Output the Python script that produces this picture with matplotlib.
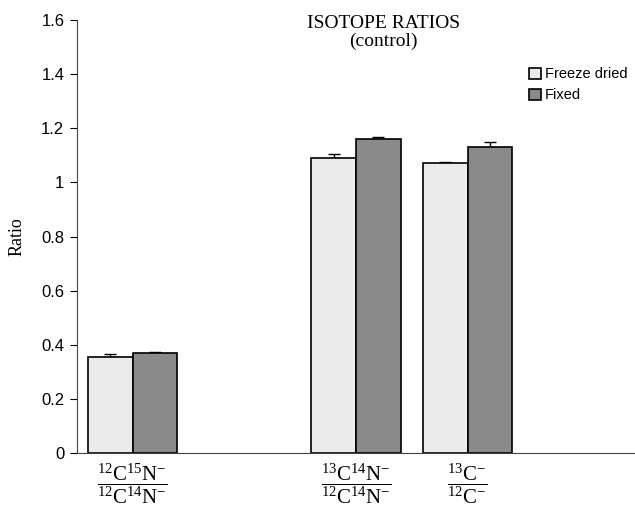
import numpy as np
import matplotlib
matplotlib.use("Agg")
from matplotlib import pyplot as plt

plt.rcParams['font.family'] = ['Liberation Sans', 'DejaVu Sans']
plt.rcParams['mathtext.fontset'] = 'custom'
plt.rcParams['mathtext.rm'] = 'Liberation Serif'
plt.rcParams['mathtext.it'] = 'Liberation Serif:italic'

# categories (two empty slots as in the original layout)
labels = [r'$\dfrac{{}^{12}\mathrm{C}^{15}\mathrm{N}^{-}}{{}^{12}\mathrm{C}^{14}\mathrm{N}^{-}}$',
          '',
          r'$\dfrac{{}^{13}\mathrm{C}^{14}\mathrm{N}^{-}}{{}^{12}\mathrm{C}^{14}\mathrm{N}^{-}}$',
          r'$\dfrac{{}^{13}\mathrm{C}^{-}}{{}^{12}\mathrm{C}^{-}}$',
          '']
groups = [0, 2, 3]
freeze = [0.355, 1.090, 1.072]
freeze_err = [0.010, 0.017, 0.003]
fixed = [0.368, 1.159, 1.131]
fixed_err = [0.005, 0.008, 0.017]

fig = plt.figure(figsize=(6.35, 5.05), dpi=100)
ax = fig.add_axes([0.121, 0.103, 0.879, 0.857])

x = np.array(groups)
w = 0.4
ax.bar(x - w / 2, freeze, w, color='#ebebeb', edgecolor='black', linewidth=1.2,
       label='Freeze dried', zorder=2)
ax.bar(x + w / 2, fixed, w, color='#8a8a8a', edgecolor='black', linewidth=1.2,
       label='Fixed', zorder=2)
ax.errorbar(x - w / 2, freeze, yerr=[np.zeros(3), freeze_err], fmt='none',
            ecolor='black', elinewidth=1, capsize=4, zorder=1)
ax.errorbar(x + w / 2, fixed, yerr=[np.zeros(3), fixed_err], fmt='none',
            ecolor='black', elinewidth=1, capsize=4, zorder=1)

ax.set_xlim(-0.5, 4.5)
ax.set_ylim(0, 1.6)
ax.set_yticks(np.arange(0, 1.61, 0.2))
ax.set_yticklabels(['0', '0.2', '0.4', '0.6', '0.8', '1', '1.2', '1.4', '1.6'], fontsize=12)
ax.set_xticks(range(5))
ax.set_xticklabels(labels, fontsize=15)
ax.tick_params(axis='x', length=0, pad=6)
ax.tick_params(axis='y', direction='out', length=5, width=0.8, pad=4)

for s in ['top', 'right']:
    ax.spines[s].set_visible(False)
ax.spines['left'].set_color('#444444')
ax.spines['bottom'].set_color('#444444')

ax.set_ylabel('Ratio', family='Liberation Serif', fontsize=13, labelpad=11)
ax.text(0.549, 1.012, 'ISOTOPE RATIOS\n(control)', transform=ax.transAxes,
        ha='center', va='top', family='Liberation Serif', fontsize=14,
        linespacing=1.05)

ax.legend(loc='upper left', bbox_to_anchor=(0.80, 0.905), frameon=False,
          fontsize=10.5, handlelength=0.8, handleheight=0.8, handletextpad=0.3,
          labelspacing=0.5, borderaxespad=0)

plt.savefig('out.png', dpi=100)
